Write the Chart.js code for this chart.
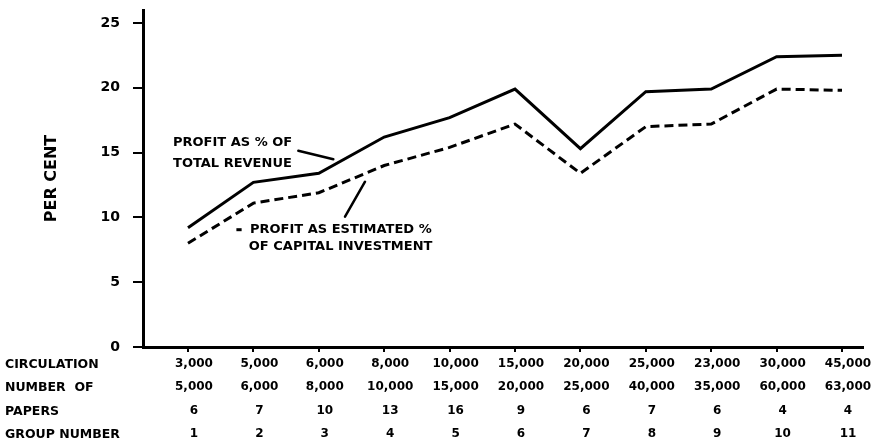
<!DOCTYPE html>
<html>
<head>
<meta charset="utf-8">
<script src="https://cdn.jsdelivr.net/npm/chart.js@4"></script>
<style>
html,body{margin:0;padding:0;background:#fff;}
#wrap{width:875px;height:445px;position:relative;}
</style>
</head>
<body>
<div id="wrap"><canvas id="c"></canvas></div>
<script>
// ---- data ----
const groupNumbers = [1, 2, 3, 4, 5, 6, 7, 8, 9, 10, 11];
const circulationLow = ['3,000', '5,000', '6,000', '8,000', '10,000', '15,000', '20,000', '25,000', '23,000', '30,000', '45,000'];
const circulationHigh = ['5,000', '6,000', '8,000', '10,000', '15,000', '20,000', '25,000', '40,000', '35,000', '60,000', '63,000'];
const numberOfPapers = [6, 7, 10, 13, 16, 9, 6, 7, 6, 4, 4];
const profitPctRevenue = [9.2, 12.7, 13.4, 16.2, 17.7, 19.9, 15.3, 19.7, 19.9, 22.4, 22.5];
const profitPctCapital = [8.0, 11.1, 11.9, 14.0, 15.4, 17.2, 13.4, 17.0, 17.2, 19.9, 19.8];
const yTickValues = [0, 5, 10, 15, 20, 25];
const rowTitles = ['CIRCULATION', 'NUMBER  OF', 'PAPERS', 'GROUP NUMBER'];
const yAxisTitle = 'PER CENT';
const revenueLabel = ['PROFIT AS % OF', 'TOTAL REVENUE'];
const capitalLabel = ['PROFIT AS ESTIMATED %', 'OF CAPITAL INVESTMENT'];

const FONT = '"DejaVu Sans", "Liberation Sans", sans-serif';
const X_LINE_H = 23.4;
const X_TICK_LEN = 5;

const annotations = {
  id: 'annotations',
  afterDraw(chart) {
    const {ctx, scales: {x, y}} = chart;
    const px = v => x.getPixelForValue(v);
    const py = v => y.getPixelForValue(v);
    ctx.save();
    ctx.fillStyle = '#000';
    ctx.strokeStyle = '#000';
    // row titles at left of the x-axis label block
    ctx.font = 'bold 12.5px ' + FONT;
    ctx.textAlign = 'left';
    ctx.textBaseline = 'middle';
    const base = x.top + X_TICK_LEN;
    rowTitles.forEach((t, k) => ctx.fillText(t, 5, base + X_LINE_H * (k + 0.5) + 1));

    // series labels
    ctx.font = 'bold 13px ' + FONT;
    ctx.fillText(revenueLabel[0], px(0.771), py(15.78));
    ctx.fillText(revenueLabel[1], px(0.771), py(14.17));
    ctx.fillText(capitalLabel[0], px(1.948), py(9.08));
    ctx.fillText(capitalLabel[1], px(1.93), py(7.75));

    // leader lines
    ctx.lineWidth = 2.5;
    ctx.lineCap = 'round';
    ctx.beginPath();
    ctx.moveTo(px(2.687), py(15.14));
    ctx.lineTo(px(3.222), py(14.48));
    ctx.moveTo(px(3.401), py(10.06));
    ctx.lineTo(px(3.707), py(12.75));
    ctx.stroke();

    // little dash sample before the dashed-series label
    ctx.lineWidth = 3;
    ctx.lineCap = 'butt';
    ctx.beginPath();
    ctx.moveTo(px(1.74), py(9.05));
    ctx.lineTo(px(1.82), py(9.05));
    ctx.stroke();
    ctx.restore();
  }
};

new Chart(document.getElementById('c'), {
  type: 'line',
  data: {
    datasets: [
      {
        label: revenueLabel.join(' '),
        data: groupNumbers.map((g, i) => ({x: g, y: profitPctRevenue[i]})),
        borderColor: '#000',
        borderWidth: 3,
        pointRadius: 0,
        tension: 0,
        fill: false,
        borderJoinStyle: 'miter'
      },
      {
        label: capitalLabel.join(' '),
        data: groupNumbers.map((g, i) => ({x: g, y: profitPctCapital[i]})),
        borderColor: '#000',
        borderWidth: 3,
        borderDash: [9, 5],
        pointRadius: 0,
        tension: 0,
        fill: false,
        borderJoinStyle: 'miter'
      }
    ]
  },
  options: {
    responsive: true,
    maintainAspectRatio: false,
    animation: false,
    layout: {padding: {left: 0, right: 12, top: 10, bottom: 0}},
    plugins: {legend: {display: false}, tooltip: {enabled: false}},
    scales: {
      x: {
        type: 'linear',
        min: 0.312,
        max: 11.321,
        afterFit(s) { s.height = 98; s.paddingLeft = 0; s.paddingRight = 0; },
        grid: {display: true, drawOnChartArea: false, drawTicks: true, tickLength: X_TICK_LEN, color: '#000', lineWidth: 2},
        border: {display: true, color: '#000', width: 3},
        ticks: {
          stepSize: 1,
          includeBounds: false,
          autoSkip: false,
          maxRotation: 0,
          minRotation: 0,
          labelOffset: 6,
          padding: 0,
          color: '#000',
          font: {family: FONT, weight: 'bold', size: 12, lineHeight: X_LINE_H + 'px'},
          callback: (v) => {
            const i = groupNumbers.indexOf(v);
            if (i < 0) return '';
            return [circulationLow[i], circulationHigh[i], String(numberOfPapers[i]), String(groupNumbers[i])];
          }
        }
      },
      y: {
        type: 'linear',
        min: 0,
        max: 26,
        afterFit(s) { s.width = 143; s.paddingTop = 0; s.paddingBottom = 0; },
        afterBuildTicks(s) { s.ticks = yTickValues.map(v => ({value: v})); },
        grid: {display: true, drawOnChartArea: false, drawTicks: true, tickLength: 10, color: '#000', lineWidth: 2},
        border: {display: true, color: '#000', width: 3},
        ticks: {
          padding: 13,
          color: '#000',
          font: {family: FONT, weight: 'bold', size: 14}
        },
        title: {
          display: true,
          text: yAxisTitle,
          color: '#000',
          font: {family: FONT, weight: 'bold', size: 16},
          padding: {top: 42, bottom: 0}
        }
      }
    }
  },
  plugins: [annotations]
});
</script>
</body>
</html>
